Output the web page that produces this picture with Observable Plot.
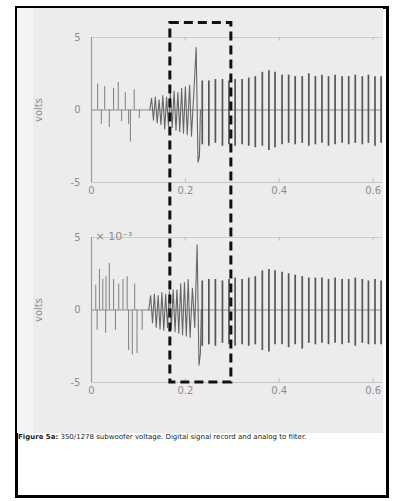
<!DOCTYPE html>
<html><head><meta charset="utf-8">
<script src="https://cdn.jsdelivr.net/npm/d3@7"></script>
<script src="https://cdn.jsdelivr.net/npm/@observablehq/plot@0.6"></script>
<style>
body{margin:0;background:#fff;width:393px;height:501px;overflow:hidden;font-family:"DejaVu Sans",sans-serif;position:relative;}
#frame{position:absolute;left:15px;top:6px;width:374px;height:492px;border:3px solid #000;box-sizing:border-box;}
#panelA{position:absolute;left:17px;top:8px;width:366px;height:425px;background:#f4f4f4;}
#panelB{position:absolute;left:33px;top:8px;width:350px;height:425px;background:#ececec;}
.abs{position:absolute;left:0;}
#cap{position:absolute;left:18px;top:433px;font-size:7px;color:#222;white-space:nowrap;}
#cap span{color:#222;}
</style></head>
<body>
<div id="frame"></div>
<div id="panelA"></div>
<div id="panelB"></div>
<div id="top" class="abs" style="top:0"></div>
<div id="bot" class="abs" style="top:200px"></div>
<div id="cap"><b>Figure 5a:</b> <span>350/1278 subwoofer voltage. Digital signal record and analog to filter.</span></div>
<script>
// ---- data ----
const xTicks = [0, 0.2, 0.4, 0.6];
const yTicks = [-5, 0, 5];
const yLabel = "volts";
const exponentLabel = "× 10⁻³";

// sparse spikes at the start (time s, volts)
const topSpikeT = [0.013, 0.021, 0.028, 0.038, 0.047, 0.057, 0.064, 0.072, 0.079, 0.083, 0.091, 0.102];
const topSpikeV = [1.8, -1.0, 1.6, -1.2, 1.5, 1.9, -0.8, 1.2, -1.0, -2.2, 1.4, -0.6];
const botSpikeT = [0.009, 0.012, 0.017, 0.024, 0.030, 0.031, 0.038, 0.047, 0.051, 0.058, 0.067, 0.076, 0.079, 0.087, 0.092, 0.097, 0.108];
const botSpikeV = [1.7, -1.4, 2.8, 2.1, -1.6, 2.3, 3.2, 2.1, -1.4, 1.8, 2.1, 2.3, -2.8, -3.1, 1.8, -3.0, -1.4];

// transient oscillation and big spike
const topTransT = [0.124, 0.128, 0.132, 0.136, 0.140, 0.144, 0.148, 0.152, 0.156, 0.160, 0.164, 0.168, 0.172, 0.176, 0.180, 0.184, 0.188, 0.192, 0.196, 0.200, 0.204, 0.209, 0.213, 0.218, 0.223, 0.227, 0.230, 0.232];
const topTransV = [0, 0.8, -0.7, 0.9, -0.9, 0.7, -1.0, 1.0, -1.3, 0.9, -1.1, 1.1, -1.2, 1.3, -1.4, 1.2, -1.5, 1.5, -1.6, 1.6, -1.7, 1.7, -1.8, 1.2, 4.3, -3.6, -3.2, 0];
const botTransT = [0.122, 0.126, 0.130, 0.134, 0.138, 0.142, 0.146, 0.150, 0.154, 0.158, 0.162, 0.166, 0.170, 0.174, 0.178, 0.182, 0.186, 0.190, 0.194, 0.198, 0.202, 0.206, 0.210, 0.215, 0.220, 0.225, 0.229, 0.232, 0.234];
const botTransV = [0, 1.0, -0.9, 1.1, -1.2, 1.0, -1.3, 1.2, -1.4, 1.1, -1.2, 1.3, -1.3, 1.4, -1.5, 1.4, -1.6, 1.8, -1.7, 1.9, -1.8, 2.1, -1.9, 1.5, -1.2, 4.5, -3.8, -3.0, 0];

// steady pulse train
const pulseT = [0.236, 0.250, 0.264, 0.279, 0.293, 0.306, 0.321, 0.335, 0.349, 0.364, 0.378, 0.391, 0.406, 0.420, 0.434, 0.449, 0.463, 0.477, 0.491, 0.505, 0.519, 0.534, 0.548, 0.562, 0.577, 0.590, 0.604, 0.617];
const topPulseUp = [2.0, 2.0, 2.1, 2.1, 2.0, 2.1, 2.1, 2.2, 2.3, 2.6, 2.7, 2.6, 2.4, 2.4, 2.3, 2.3, 2.5, 2.3, 2.4, 2.3, 2.4, 2.3, 2.3, 2.4, 2.3, 2.4, 2.3, 2.3];
const topPulseDown = [-2.4, -2.5, -2.3, -2.5, -2.4, -2.5, -2.4, -2.5, -2.6, -2.5, -2.8, -2.6, -2.4, -2.3, -2.4, -2.3, -2.5, -2.4, -2.3, -2.5, -2.4, -2.3, -2.4, -2.3, -2.4, -2.3, -2.5, -2.3];
const botPulseUp = [2.0, 2.1, 2.1, 2.0, 2.1, 2.2, 2.1, 2.2, 2.3, 2.7, 2.8, 2.7, 2.6, 2.5, 2.4, 2.3, 2.2, 2.2, 2.2, 2.1, 2.2, 2.1, 2.1, 2.2, 2.1, 2.0, 2.1, 2.0];
const botPulseDown = [-2.5, -2.4, -2.5, -2.3, -2.4, -2.5, -2.4, -2.5, -2.4, -2.8, -2.9, -2.4, -2.4, -2.6, -2.4, -2.7, -2.3, -2.4, -2.3, -2.4, -2.3, -2.4, -2.3, -2.5, -2.3, -2.4, -2.4, -2.4];

// dashed highlight box: time span, top (upper panel volts), bottom (lower panel volts)
const boxT = [0.168, 0.298];
const boxTopV = 6;
const boxBottomV = -5;

// ---- drawing ----
function panel(spT, spV, trT, trV, up, dn, withExp) {
  const si = d3.range(spT.length), ti = d3.range(trT.length), pi = d3.range(pulseT.length);
  const marks = [
    Plot.ruleY([5], {stroke: "#cdcdcd"}),
    Plot.ruleY([-5], {stroke: "#c8c8c8"}),
    Plot.ruleX(xTicks, {y1: 5, y2: 4.75, stroke: "#bbb"}),
    Plot.ruleX(xTicks, {y1: -5, y2: -4.75, stroke: "#bbb"}),
    Plot.ruleY([0], {stroke: "#8a8a8a"}),
    Plot.ruleX([0], {y1: -5, y2: 5, stroke: "#9a9a9a", strokeWidth: 1.2}),
    Plot.ruleX(si, {x: i => spT[i], y1: 0, y2: i => spV[i], stroke: "#888", strokeWidth: 1.1}),
    Plot.line(ti, {x: i => trT[i], y: i => trV[i], stroke: "#666", strokeWidth: 1.1}),
    Plot.ruleX(pi, {x: i => pulseT[i], y1: i => dn[i], y2: i => up[i], stroke: "#555", strokeWidth: 1.7}),
    Plot.axisY(yTicks, {tickSize: 0, tickPadding: 11, fontSize: 10, fill: "#8c8c8c", tickFormat: d => String(d)}),
    Plot.axisX(xTicks, {tickSize: 0, tickPadding: 4, fontSize: 10, fill: "#8c8c8c", tickFormat: d => String(d)}),
    Plot.text([yLabel], {x: 0, y: 0, dx: -53, rotate: -90, fontSize: 10, fill: "#8c8c8c"})
  ];
  if (withExp) marks.push(Plot.text([exponentLabel], {x: 0, y: 5, dx: 4, dy: -1, textAnchor: "start", fontSize: 11, fill: "#8c8c8c"}));
  return Plot.plot({
    width: 393, height: 202, marginLeft: 91, marginRight: 11, marginTop: 37, marginBottom: 20,
    x: {domain: [0, 0.62], axis: null},
    y: {domain: [-5, 5], axis: null},
    style: {background: "transparent", overflow: "visible", fontFamily: "DejaVu Sans"},
    marks
  });
}
const topPlot = panel(topSpikeT, topSpikeV, topTransT, topTransV, topPulseUp, topPulseDown, false);
const botPlot = panel(botSpikeT, botSpikeV, botTransT, botTransV, botPulseUp, botPulseDown, true);
document.getElementById("top").appendChild(topPlot);
document.getElementById("bot").appendChild(botPlot);

// overlay dashed box using the plots' own scales
const xs = topPlot.scale("x"), yTop = topPlot.scale("y"), yBot = botPlot.scale("y");
const x0 = xs.apply(boxT[0]), x1 = xs.apply(boxT[1]);
const y0 = yTop.apply(boxTopV), y1 = yBot.apply(boxBottomV) + 200;
const ov = d3.select("body").append("svg").attr("class", "abs").style("top", "0px")
  .attr("width", 393).attr("height", 501).style("pointer-events", "none");
ov.append("rect").attr("x", x0).attr("y", y0).attr("width", x1 - x0).attr("height", y1 - y0)
  .attr("fill", "none").attr("stroke", "#111").attr("stroke-width", 3).attr("stroke-dasharray", "9,5");
</script>
</body></html>
